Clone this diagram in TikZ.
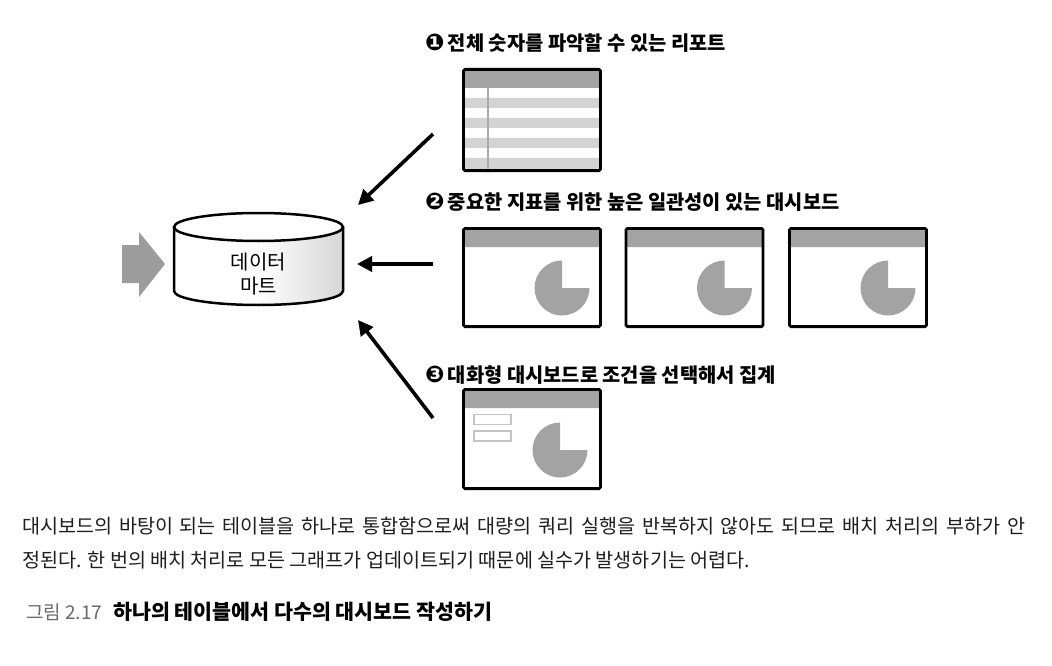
\documentclass[tikz,border=0pt]{standalone}
\usepackage{fontspec}
\setmainfont{Noto Sans CJK KR}
\newfontfamily\dvs{DejaVu Sans}
\usetikzlibrary{arrows.meta,calc}
\definecolor{hdr}{HTML}{A3A3A3}
\definecolor{stripe}{HTML}{D3D3D3}
\definecolor{piec}{HTML}{A3A3A3}
\definecolor{blockc}{HTML}{9C9C9C}
\definecolor{fieldc}{HTML}{C4C4C4}
\definecolor{bodyc}{HTML}{1E1E1E}
\definecolor{capgray}{HTML}{6A6A6A}
\begin{document}
\begin{tikzpicture}[x=1pt,y=-1pt,
  win/.style={draw=black, line width=2.8pt, rounded corners=1.5pt, fill=white, inner sep=0pt,
    minimum width=137pt,
    path picture={\fill[hdr] (path picture bounding box.north west) rectangle ([yshift=-18.6pt]path picture bounding box.north east);}},
  field/.style={draw=fieldc, line width=1.8pt, fill=white, inner sep=0pt, minimum width=37pt, minimum height=10pt},
  conn/.style={line width=3.6pt, -{Triangle[length=15pt,width=15pt]}},
  lbl/.style={anchor=west, inner sep=0pt, font=\fontsize{19.8}{24}\selectfont\bfseries},
  bodytxt/.style={anchor=west, inner sep=0pt, text=bodyc, font=\fontsize{19.6}{24}\selectfont},
  pie/.pic={\fill[piec] (0,0) -- (0pt,27.5pt) arc[start angle=90,end angle=360,radius=27.5pt] -- cycle;}
]
\useasboundingbox (0,0) rectangle (1052,666);
\fill[white] (0,0) rectangle (1052,666);

% input block arrow
\fill[blockc] (122,245) -- (139,245) -- (139,232) -- (165,264) -- (139,297) -- (139,283) -- (122,283) -- cycle;

% cylinder (data mart)
\shade[left color=white, right color=black!16, middle color=white]
  (174,227) -- (174,291) arc[start angle=180,end angle=360,x radius=84.5pt,y radius=14pt]
  -- (343,227) arc[start angle=0,end angle=180,x radius=84.5pt,y radius=14pt] -- cycle;
\draw[line width=2.5pt, line join=round]
  (174,227) -- (174,291) arc[start angle=180,end angle=360,x radius=84.5pt,y radius=14pt]
  -- (343,227);
\draw[line width=2.5pt, fill=white] (258.5,227) ellipse [x radius=84.5pt, y radius=14pt];
\node[align=center, inner sep=0pt, font=\fontsize{20}{24}\selectfont] (dm) at (258.5,274) {데이터\\마트};

% labels
\node[lbl] (l1) at (425,43) {{\dvs\bfseries\fontsize{23}{24}\selectfont ❶}\,전체 숫자를 파악할 수 있는 리포트};
\node[lbl] (l2) at (425,202) {{\dvs\bfseries\fontsize{23}{24}\selectfont ❷}\,중요한 지표를 위한 높은 일관성이 있는 대시보드};
\node[lbl] (l3) at (425,375) {{\dvs\bfseries\fontsize{23}{24}\selectfont ❸}\,대화형 대시보드로 조건을 선택해서 집계};

% report table
\node[win, minimum height=101.2pt,
  path picture={
    \fill[hdr] (path picture bounding box.north west) rectangle ([yshift=-18.6pt]path picture bounding box.north east);
    \foreach \t/\b in {28.6/38.6, 48.6/58.6, 68.6/78.6, 88.6/110}{
      \fill[stripe] ([yshift=-\t pt]path picture bounding box.north west) rectangle ([yshift=-\b pt]path picture bounding box.north east);}
    \draw[line width=1.6pt, draw=black!33] ([xshift=24.6pt,yshift=-18.6pt]path picture bounding box.north west) -- ([xshift=24.6pt]path picture bounding box.south west);
  }] (rep) at (532,120) {};

% dashboards
\node[win, minimum height=98.2pt] (d1) at (532,277.5) {};
\node[win, minimum height=98.2pt] (d2) at (694.5,277.5) {};
\node[win, minimum height=98.2pt] (d3) at (858,277.5) {};
\pic (p1) at ([xshift=30pt,yshift=-10.5pt]d1.center) {pie};
\pic (p2) at ([xshift=30pt,yshift=-10.5pt]d2.center) {pie};
\pic (p3) at ([xshift=30pt,yshift=-10.5pt]d3.center) {pie};

% interactive dashboard
\node[win, minimum height=99.2pt] (ia) at (532,439) {};
\pic (p4) at ([xshift=28pt,yshift=-11pt]ia.center) {pie};
\node[field] (f1) at (492.5,419.5) {};
\node[field] (f2) at (492.5,436) {};

% connectors
\coordinate (a1s) at (433,134);
\coordinate (a1e) at (358,205);
\coordinate (a2s) at (433,264);
\coordinate (a2e) at (357,264);
\coordinate (a3s) at (433,418);
\coordinate (a3e) at (358,320);
\draw[conn] (a1s) -- (a1e);
\draw[conn] (a2s) -- (a2e);
\draw[conn] (a3s) -- (a3e);

% body text
\node[bodytxt] (t1) at (22,526) {\makebox[1003pt][s]{대시보드의 바탕이 되는 테이블을 하나로 통합함으로써 대량의 쿼리 실행을 반복하지 않아도 되므로 배치 처리의 부하가 안}};
\node[bodytxt] (t2) at (22,560) {정된다. 한 번의 배치 처리로 모든 그래프가 업데이트되기 때문에 실수가 발생하기는 어렵다.};

% caption
\node[anchor=west, inner sep=0pt, text=capgray, font=\fontsize{19}{22}\selectfont] (c1) at (26,612) {그림 2.17};
\node[anchor=west, inner sep=0pt, font=\fontsize{20.6}{24}\selectfont\bfseries] (c2) at (113,612) {하나의 테이블에서 다수의 대시보드 작성하기};
\end{tikzpicture}
\end{document}
